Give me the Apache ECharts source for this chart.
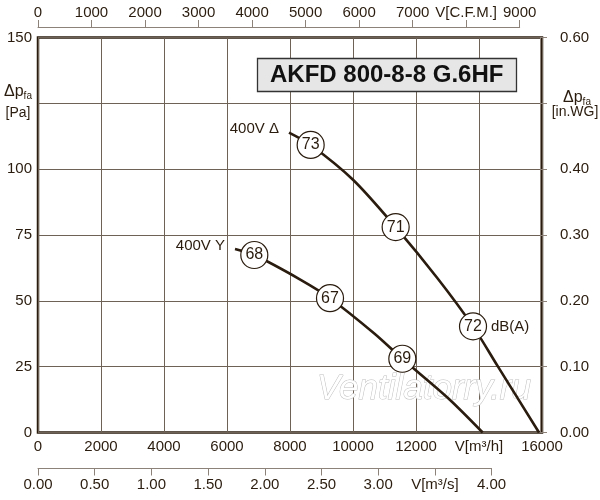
<!DOCTYPE html>
<html>
<head>
<meta charset="utf-8">
<script src="https://cdn.jsdelivr.net/npm/echarts@6/dist/echarts.min.js"></script>
<style>
html, body { margin: 0; padding: 0; background: #fff; }
#main { width: 600px; height: 500px; }
</style>
</head>
<body>
<div id="main"></div>
<script>
// axis ranges
var flowMax = 16000, flowStep = 2000;        // m3/h
var pressMax = 150, pressStep = 25;          // Pa
var cfmMax = 9000, cfmStep = 1000;           // C.F.M.
var m3sMax = 4, m3sStep = 0.5;               // m3/s
var inwgMax = 0.6, inwgStep = 0.1;           // in.WG
var cfmPerM3h = 0.588578;

// curves [flow m3/h, pressure Pa]
var curveDelta = [
    [7968, 113.9], [8656, 109.2], [10000, 96.0], [11354, 78.0],
    [12688, 58.5], [13810, 40.3], [14603, 25.0], [15905, 0]
];
var curveStar = [
    [6254, 69.7], [6867, 67.4], [8339, 58.0], [9270, 51.0],
    [10667, 37.7], [11566, 28.0], [13005, 13.2], [14116, 0]
];
// noise points [flow, pressure, dB(A)]
var dbDelta = [[8656, 109.2, 73], [11354, 78.0, 71], [13810, 40.3, 72]];
var dbStar = [[6867, 67.4, 68], [9270, 51.0, 67], [11566, 28.0, 69]];

var curveNames = ['400V \u0394', '400V Y'];

var ink = '#2a1c0e';
var gridInk = '#6e6256';
var lightInk = '#8c827a';
var font = 'Liberation Sans, Arial, sans-serif';

var plotLeft = 38, plotTop = 37.5, plotW = 504, plotH = 395;
var cfmW = plotW * cfmMax / (flowMax * cfmPerM3h);
var m3sW = plotW * m3sMax * 3600 / flowMax;

function labelStyle(extra) {
    var s = { color: ink, fontFamily: font, fontSize: 15 };
    for (var k in extra) s[k] = extra[k];
    return s;
}

function curveSeries(data, name) {
    return {
        name: name, type: 'line', xAxisIndex: 0, yAxisIndex: 0, z: 3,
        smooth: 0.3, symbol: 'none', showSymbol: false,
        lineStyle: { color: ink, width: 2.6 },
        data: data
    };
}

function noiseSeries(data) {
    return {
        type: 'scatter', xAxisIndex: 0, yAxisIndex: 0, z: 5,
        symbol: 'circle', symbolSize: 27,
        itemStyle: { color: '#fff', borderColor: ink, borderWidth: 1.2, opacity: 1 },
        label: { show: true, position: 'inside', color: ink, fontFamily: font, fontSize: 16,
                 formatter: function (p) { return p.value[2]; } },
        data: data
    };
}

function textSeries(data, position, distance, text) {
    return {
        type: 'scatter', xAxisIndex: 0, yAxisIndex: 0, z: 5, symbolSize: 0,
        itemStyle: { opacity: 1 },
        label: { show: true, position: position, distance: distance, color: ink,
                 fontFamily: font, fontSize: 15, formatter: text },
        data: data
    };
}

var myChart = echarts.init(document.getElementById('main'));
var option = {
    animation: false,
    backgroundColor: '#fff',
    title: {
        text: 'AKFD 800-8-8 G.6HF',
        left: 257, top: 58,
        padding: [5, 13, 5, 13],
        backgroundColor: '#e6e6e6',
        borderColor: '#333',
        borderWidth: 1.3,
        textStyle: { color: '#111', fontFamily: font, fontSize: 24, fontWeight: 'bold' }
    },
    grid: [
        { left: plotLeft, top: plotTop, width: plotW, height: plotH,
          show: true, borderColor: ink, borderWidth: 2.5, backgroundColor: 'transparent' },
        { left: plotLeft, top: 26, width: cfmW, height: 1 },
        { left: plotLeft, top: 467.5, width: m3sW, height: 1 },
        { left: 540, top: plotTop, width: 10.5, height: plotH }
    ],
    xAxis: [
        { type: 'value', gridIndex: 0, min: 0, max: flowMax, interval: flowStep,
          axisLine: { show: false }, axisTick: { show: false },
          splitLine: { show: true, lineStyle: { color: gridInk, width: 1 } },
          axisLabel: labelStyle({ margin: 6.5, showMaxLabel: true,
              formatter: function (v) { return v === 14000 ? 'V[m\u00b3/h]' : v; } }) },
        { type: 'value', gridIndex: 1, position: 'top', min: 0, max: cfmMax, interval: cfmStep,
          axisLine: { show: true, lineStyle: { color: lightInk, width: 1 } },
          axisTick: { show: true, length: 7, lineStyle: { color: lightInk, width: 1 } },
          splitLine: { show: false },
          axisLabel: labelStyle({ margin: 6, showMaxLabel: true,
              formatter: function (v) { return v === 8000 ? 'V[C.F.M.]' : v; } }) },
        { type: 'value', gridIndex: 2, position: 'bottom', min: 0, max: m3sMax, interval: m3sStep,
          axisLine: { show: true, lineStyle: { color: lightInk, width: 1 } },
          axisTick: { show: true, length: 7, lineStyle: { color: lightInk, width: 1 } },
          splitLine: { show: false },
          axisLabel: labelStyle({ margin: 9, showMaxLabel: true,
              formatter: function (v) { return v === 3.5 ? 'V[m\u00b3/s]' : v.toFixed(2); } }) },
        { type: 'value', gridIndex: 3, show: false, min: 0, max: 1 }
    ],
    yAxis: [
        { type: 'value', gridIndex: 0, min: 0, max: pressMax, interval: pressStep,
          axisLine: { show: false }, axisTick: { show: false },
          splitLine: { show: true, lineStyle: { color: gridInk, width: 1 } },
          axisLabel: labelStyle({ margin: 6, showMaxLabel: true,
              formatter: function (v) { return v === 125 ? '' : v; } }) },
        { type: 'value', gridIndex: 1, show: false, min: 0, max: 1 },
        { type: 'value', gridIndex: 2, show: false, min: 0, max: 1 },
        { type: 'value', gridIndex: 3, position: 'right', min: 0, max: inwgMax, interval: inwgStep,
          axisLine: { show: true, lineStyle: { color: lightInk, width: 1 } },
          axisTick: { show: true, length: 7, lineStyle: { color: lightInk, width: 1 } },
          splitLine: { show: false },
          axisLabel: labelStyle({ margin: 9.5, showMaxLabel: true,
              formatter: function (v) { return Math.abs(v - 0.5) < 1e-6 ? '' : v.toFixed(2); } }) }
    ],
    graphic: [
        { type: 'text', x: 18, y: 92, z: 10,
          style: { text: '{d|\u0394p}{s|fa}', align: 'center', verticalAlign: 'middle',
                   rich: { d: { fontSize: 16, fontFamily: font, fill: ink },
                           s: { fontSize: 10, fontFamily: font, fill: ink, padding: [8, 0, 0, 0] } } } },
        { type: 'text', x: 18, y: 113, z: 10,
          style: { text: '[Pa]', align: 'center', verticalAlign: 'middle',
                   font: '14px ' + font, fill: ink } },
        { type: 'text', x: 577, y: 98, z: 10,
          style: { text: '{d|\u0394p}{s|fa}', align: 'center', verticalAlign: 'middle',
                   rich: { d: { fontSize: 16, fontFamily: font, fill: ink },
                           s: { fontSize: 10, fontFamily: font, fill: ink, padding: [8, 0, 0, 0] } } } },
        { type: 'text', x: 575, y: 112, z: 10,
          style: { text: '[in.WG]', align: 'center', verticalAlign: 'middle',
                   font: '14px ' + font, fill: ink } },
        { type: 'text', x: 424, y: 389, z: 1,
          style: { text: 'Ventilatorry.ru', align: 'center', verticalAlign: 'middle',
                   font: 'italic 35px ' + font, fill: '#fff', stroke: '#bdbdbd', lineWidth: 1 } }
    ],
    series: [
        curveSeries(curveDelta, curveNames[0]),
        curveSeries(curveStar, curveNames[1]),
        noiseSeries(dbDelta),
        noiseSeries(dbStar),
        // curve names at the start of each curve
        textSeries([
            { name: curveNames[0], value: curveDelta[0], label: { offset: [0, -4] } },
            { name: curveNames[1], value: curveStar[0], label: { offset: [0, -3] } }
        ], 'left', 10, '{b}'),
        textSeries([dbDelta[dbDelta.length - 1].slice(0, 2)], 'right', 18, 'dB(A)')
    ]
};
myChart.setOption(option);
</script>
</body>
</html>
